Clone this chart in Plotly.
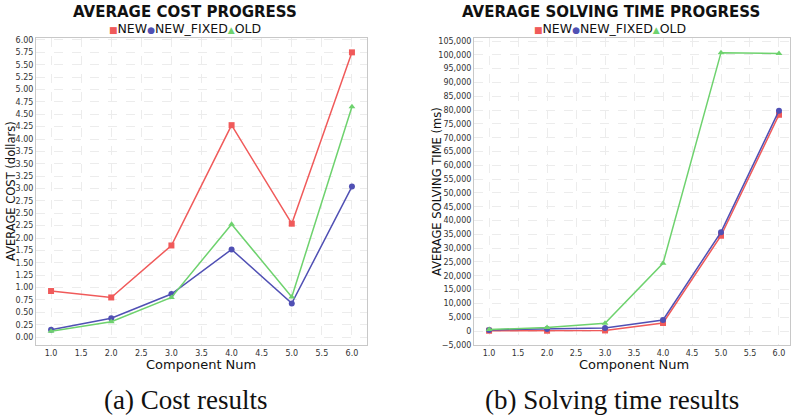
import plotly.graph_objects as go

component_num = [1.0, 2.0, 3.0, 4.0, 5.0, 6.0]

cost_new = [0.93, 0.80, 1.85, 4.28, 2.29, 5.75]
cost_new_fixed = [0.15, 0.38, 0.87, 1.77, 0.68, 3.04]
cost_old = [0.12, 0.31, 0.80, 2.28, 0.81, 4.65]

time_new = [100, 100, 200, 2900, 34500, 78300]
time_new_fixed = [400, 700, 1100, 4000, 35800, 79800]
time_old = [500, 1300, 2800, 24500, 100800, 100500]

series_names = ["NEW", "NEW_FIXED", "OLD"]
colors = ["#f05a5a", "#5050b4", "#6ed26e"]
symbols = ["square", "circle", "triangle-up"]
legend_glyphs = ["■", "●", "▲"]

fig = go.Figure()

cost_series = [cost_new, cost_new_fixed, cost_old]
time_series = [time_new, time_new_fixed, time_old]

for name, vals, c, s in zip(series_names, cost_series, colors, symbols):
    fig.add_trace(go.Scatter(x=component_num, y=vals, name=name, mode="lines+markers",
                             line=dict(color=c, width=1.5),
                             marker=dict(symbol=s, size=6, color=c),
                             xaxis="x", yaxis="y", showlegend=False))
for name, vals, c, s in zip(series_names, time_series, colors, symbols):
    fig.add_trace(go.Scatter(x=component_num, y=vals, name=name, mode="lines+markers",
                             line=dict(color=c, width=1.5),
                             marker=dict(symbol=s, size=6, color=c),
                             xaxis="x2", yaxis="y2", showlegend=False))

W, H = 791, 417
def px(x):
    return x / W
def py(y):
    return 1 - y / H

grid = dict(showgrid=True, gridcolor="#ececec", griddash="dash", gridwidth=1,
            showline=True, linecolor="#c8c8c8", mirror=True, zeroline=False,
            ticks="", automargin=False,
            tickfont=dict(family="DejaVu Sans", size=8, color="#333333"))

fig.update_layout(
    width=W, height=H,
    margin=dict(l=0, r=0, t=0, b=0),
    paper_bgcolor="white", plot_bgcolor="white",
    font=dict(family="DejaVu Sans", color="#111111"),
    xaxis=dict(domain=[px(36), px(367)], range=[0.75, 6.25], dtick=0.5, tickformat=".1f",
               anchor="y", **grid),
    yaxis=dict(domain=[py(345), py(38)], range=[-0.16, 6.04], dtick=0.25, tickformat=".2f",
               anchor="x", **grid),
    xaxis2=dict(domain=[px(474), px(790)], range=[0.74, 6.19], dtick=0.5, tickformat=".1f",
                anchor="y2", **grid),
    yaxis2=dict(domain=[py(345), py(38)], range=[-5070, 106100], dtick=5000, tickformat=",",
                anchor="x2", **grid),
)

def legend_text():
    parts = []
    for name, c, g in zip(series_names, colors, legend_glyphs):
        parts.append(f"<span style='color:{c};font-size:9px'>{g}</span>{name}")
    return "".join(parts)

annotations = [
    dict(text="<b>AVERAGE COST PROGRESS</b>", x=px(185), y=py(12), font=dict(size=15, color="#111111")),
    dict(text="<b>AVERAGE SOLVING TIME PROGRESS</b>", x=px(611), y=py(12), font=dict(size=15, color="#111111")),
    dict(text=legend_text(), x=px(185), y=py(28), font=dict(size=12.5, color="#111111")),
    dict(text=legend_text(), x=px(610), y=py(28), font=dict(size=12.5, color="#111111")),
    dict(text="Component Num", x=px(201), y=py(364), font=dict(size=13, color="#111111")),
    dict(text="Component Num", x=px(634), y=py(364), font=dict(size=13, color="#111111")),
    dict(text="AVERAGE COST (dollars)", x=px(11), y=py(191), textangle=-90, font=dict(size=11.5, color="#111111")),
    dict(text="AVERAGE SOLVING TIME (ms)", x=px(437), y=py(192), textangle=-90, font=dict(size=11.5, color="#111111")),
    dict(text="(a) Cost results", x=px(185), y=py(400), font=dict(family="Liberation Serif", size=27, color="#111111")),
    dict(text="(b) Solving time results", x=px(612), y=py(400), font=dict(family="Liberation Serif", size=27, color="#111111")),
]
for a in annotations:
    a.update(xref="paper", yref="paper", showarrow=False, xanchor="center", yanchor="middle")
fig.update_layout(annotations=annotations)

# remove the default 8px page margin so the figure fills the 791x417 window
fig.write_html("out.html", config={"displayModeBar": False},
               post_script="document.body.style.margin='0px';document.body.style.overflow='hidden';")
